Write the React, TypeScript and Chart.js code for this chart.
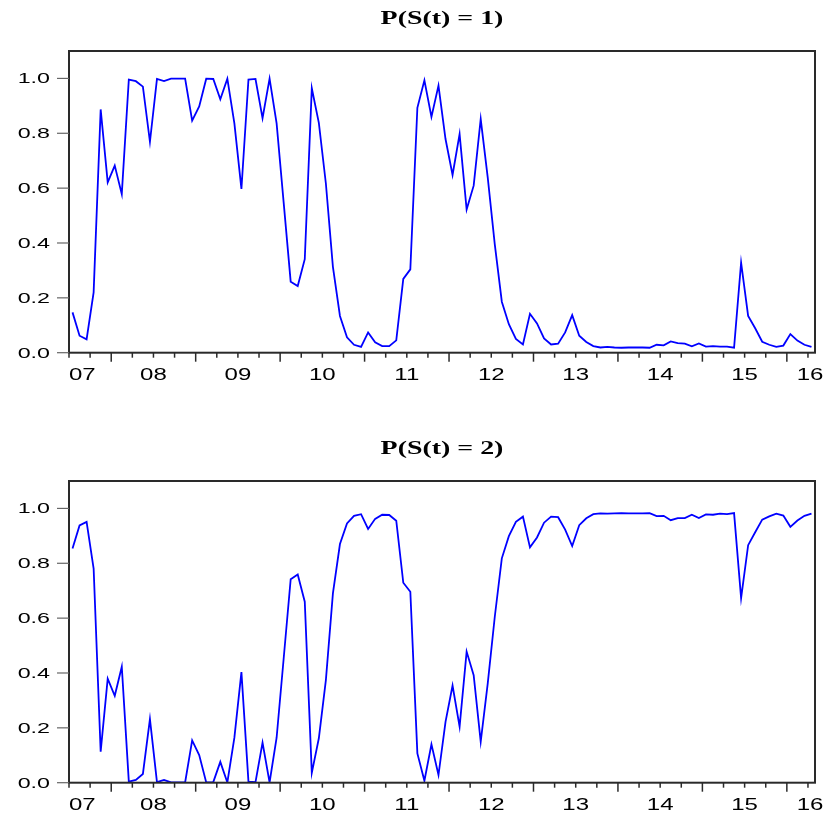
import React, { useEffect, useRef } from 'react';
import { Chart, registerables } from 'chart.js';

Chart.register(...registerables);

// Monthly observations 2007M07 .. 2016M04 (106 obs)
const months: string[] = (() => {
  const out: string[] = [];
  let y = 2007;
  let m = 7;
  while (!(y === 2016 && m === 5)) {
    out.push(`${y}M${String(m).padStart(2, '0')}`);
    m += 1;
    if (m > 12) { m = 1; y += 1; }
  }
  return out;
})();

const p1Values = [
  0.147, 0.062, 0.049, 0.220, 0.887, 0.621, 0.682, 0.578, 0.996, 0.990,
  0.970, 0.769, 0.998, 0.990, 0.999, 0.999, 0.999, 0.846, 0.898, 0.999,
  0.998, 0.924, 0.999, 0.836, 0.597, 0.996, 0.998, 0.855, 0.999, 0.836,
  0.548, 0.259, 0.243, 0.341, 0.964, 0.838, 0.617, 0.313, 0.134, 0.056,
  0.029, 0.021, 0.074, 0.038, 0.024, 0.024, 0.045, 0.269, 0.304, 0.893,
  0.993, 0.860, 0.974, 0.779, 0.648, 0.797, 0.522, 0.609, 0.852, 0.638,
  0.395, 0.186, 0.104, 0.050, 0.030, 0.142, 0.107, 0.052, 0.030, 0.033,
  0.074, 0.137, 0.062, 0.039, 0.024, 0.019, 0.021, 0.019, 0.018, 0.019,
  0.019, 0.019, 0.018, 0.029, 0.027, 0.041, 0.035, 0.033, 0.023, 0.034,
  0.022, 0.024, 0.022, 0.022, 0.018, 0.328, 0.134, 0.089, 0.040, 0.029,
  0.021, 0.026, 0.068, 0.044, 0.029, 0.021,
];

const p2Values = [
  0.854, 0.938, 0.951, 0.781, 0.113, 0.379, 0.317, 0.423, 0.004, 0.010,
  0.032, 0.232, 0.002, 0.010, 0.001, 0.001, 0.001, 0.154, 0.101, 0.001,
  0.002, 0.076, 0.001, 0.164, 0.403, 0.004, 0.002, 0.146, 0.001, 0.164,
  0.452, 0.742, 0.759, 0.660, 0.036, 0.162, 0.374, 0.690, 0.870, 0.945,
  0.973, 0.979, 0.925, 0.962, 0.977, 0.976, 0.955, 0.729, 0.696, 0.107,
  0.007, 0.140, 0.028, 0.222, 0.354, 0.204, 0.478, 0.392, 0.149, 0.362,
  0.605, 0.818, 0.899, 0.951, 0.970, 0.858, 0.894, 0.948, 0.970, 0.968,
  0.923, 0.863, 0.939, 0.964, 0.979, 0.982, 0.981, 0.982, 0.983, 0.982,
  0.982, 0.982, 0.983, 0.972, 0.973, 0.957, 0.965, 0.965, 0.977, 0.965,
  0.978, 0.977, 0.981, 0.979, 0.983, 0.673, 0.866, 0.913, 0.959, 0.971,
  0.981, 0.974, 0.933, 0.956, 0.973, 0.981,
];

const yTickValues = [0, 0.2, 0.4, 0.6, 0.8, 1.0];
const yTickLabels = ['0.0', '0.2', '0.4', '0.6', '0.8', '1.0'];

const xYearLabels = ['07', '08', '09', '10', '11', '12', '13', '14', '15', '16'];
// label anchor (in observation-index units)
const xYearLabelAt = [1.4, 11.5, 23.5, 35.5, 47.5, 59.5, 71.5, 83.5, 95.5, 104.8];

// quarter boundaries (observation-index units, between months)
const xQuarterTicks: number[] = (() => {
  const out: number[] = [];
  for (let v = -0.5; v <= months.length - 1.5 + 0.01; v += 3) out.push(v);
  return out;
})();
const isYearBoundary = (v: number) => Math.round(v + 0.5) % 12 === 6;

const SANS = '"Liberation Sans", Arial, sans-serif';
const SERIF = '"Liberation Serif", "Times New Roman", serif';

function stretchedText(
  ctx: CanvasRenderingContext2D,
  text: string,
  x: number,
  y: number,
  sx: number,
  align: CanvasTextAlign,
) {
  ctx.save();
  ctx.translate(x, y);
  ctx.scale(sx, 1);
  ctx.textAlign = align;
  ctx.textBaseline = 'alphabetic';
  ctx.fillText(text, 0, 0);
  ctx.restore();
}

const eviewsAxes = {
  id: 'eviewsAxes',
  afterDatasetsDraw(chart: any, _args: any, opts: any) {
    const { ctx, chartArea: a } = chart;
    const x = chart.scales.x;
    const y = chart.scales.y;
    ctx.save();

    // frame
    ctx.strokeStyle = '#2a2a2a';
    ctx.lineWidth = 2;
    ctx.strokeRect(a.left, a.top, a.right - a.left, a.bottom - a.top);

    // x ticks
    ctx.strokeStyle = '#2a2a2a';
    ctx.lineWidth = 1.5;
    xQuarterTicks.forEach((v) => {
      const px = x.getPixelForValue(v);
      const len = isYearBoundary(v) ? 9 : 5;
      ctx.beginPath();
      ctx.moveTo(px, a.bottom);
      ctx.lineTo(px, a.bottom + len);
      ctx.stroke();
    });

    // y ticks
    ctx.strokeStyle = '#666666';
    ctx.lineWidth = 1.2;
    yTickValues.forEach((v) => {
      const py = y.getPixelForValue(v);
      ctx.beginPath();
      ctx.moveTo(a.left - 12, py);
      ctx.lineTo(a.left, py);
      ctx.stroke();
    });

    // labels
    ctx.fillStyle = '#000000';
    ctx.font = `15.5px ${SANS}`;
    yTickValues.forEach((v, i) => {
      const py = y.getPixelForValue(v);
      stretchedText(ctx, yTickLabels[i], a.left - 19, py + 5, 1.5, 'right');
    });
    ctx.font = `16px ${SANS}`;
    xYearLabels.forEach((lab, i) => {
      const px = x.getPixelForValue(xYearLabelAt[i]);
      stretchedText(ctx, lab, px, a.bottom + 27, 1.5, 'center');
    });

    // title
    ctx.font = `bold 18px ${SERIF}`;
    stretchedText(ctx, opts.title, (a.left + a.right) / 2, a.top - 27.5, 1.55, 'center');

    ctx.restore();
  },
};

function Panel({ title, values, height, padBottom }: { title: string; values: number[]; height: number; padBottom: number }) {
  const ref = useRef<HTMLCanvasElement | null>(null);
  useEffect(() => {
    if (!ref.current) return;
    const chart = new Chart(ref.current, {
      type: 'line',
      data: {
        labels: months,
        datasets: [
          {
            data: values,
            borderColor: '#0000ff',
            borderWidth: 1.8,
            pointRadius: 0,
            tension: 0,
            fill: false,
          },
        ],
      },
      options: {
        animation: false,
        responsive: false,
        devicePixelRatio: 1,
        layout: { autoPadding: false, padding: { top: 51, left: 69, right: 9, bottom: padBottom } },
        plugins: {
          legend: { display: false },
          title: { display: false },
          tooltip: { enabled: false },
          eviewsAxes: { title },
        } as any,
        scales: {
          x: { type: 'category', offset: true, display: false },
          y: { type: 'linear', min: 0, max: 1.1, display: false },
        },
      },
      plugins: [eviewsAxes],
    });
    return () => chart.destroy();
  }, [title, values, height, padBottom]);
  return <canvas ref={ref} width={824} height={height} style={{ display: 'block' }} />;
}

export default function App() {
  return (
    <div style={{ position: 'absolute', left: 0, top: 0, width: 824, height: 813, overflow: 'hidden', background: '#ffffff' }}>
      <Panel title="P(S(t) = 1)" values={p1Values} height={430} padBottom={77.3} />
      <Panel title="P(S(t) = 2)" values={p2Values} height={383} padBottom={30.3} />
    </div>
  );
}
